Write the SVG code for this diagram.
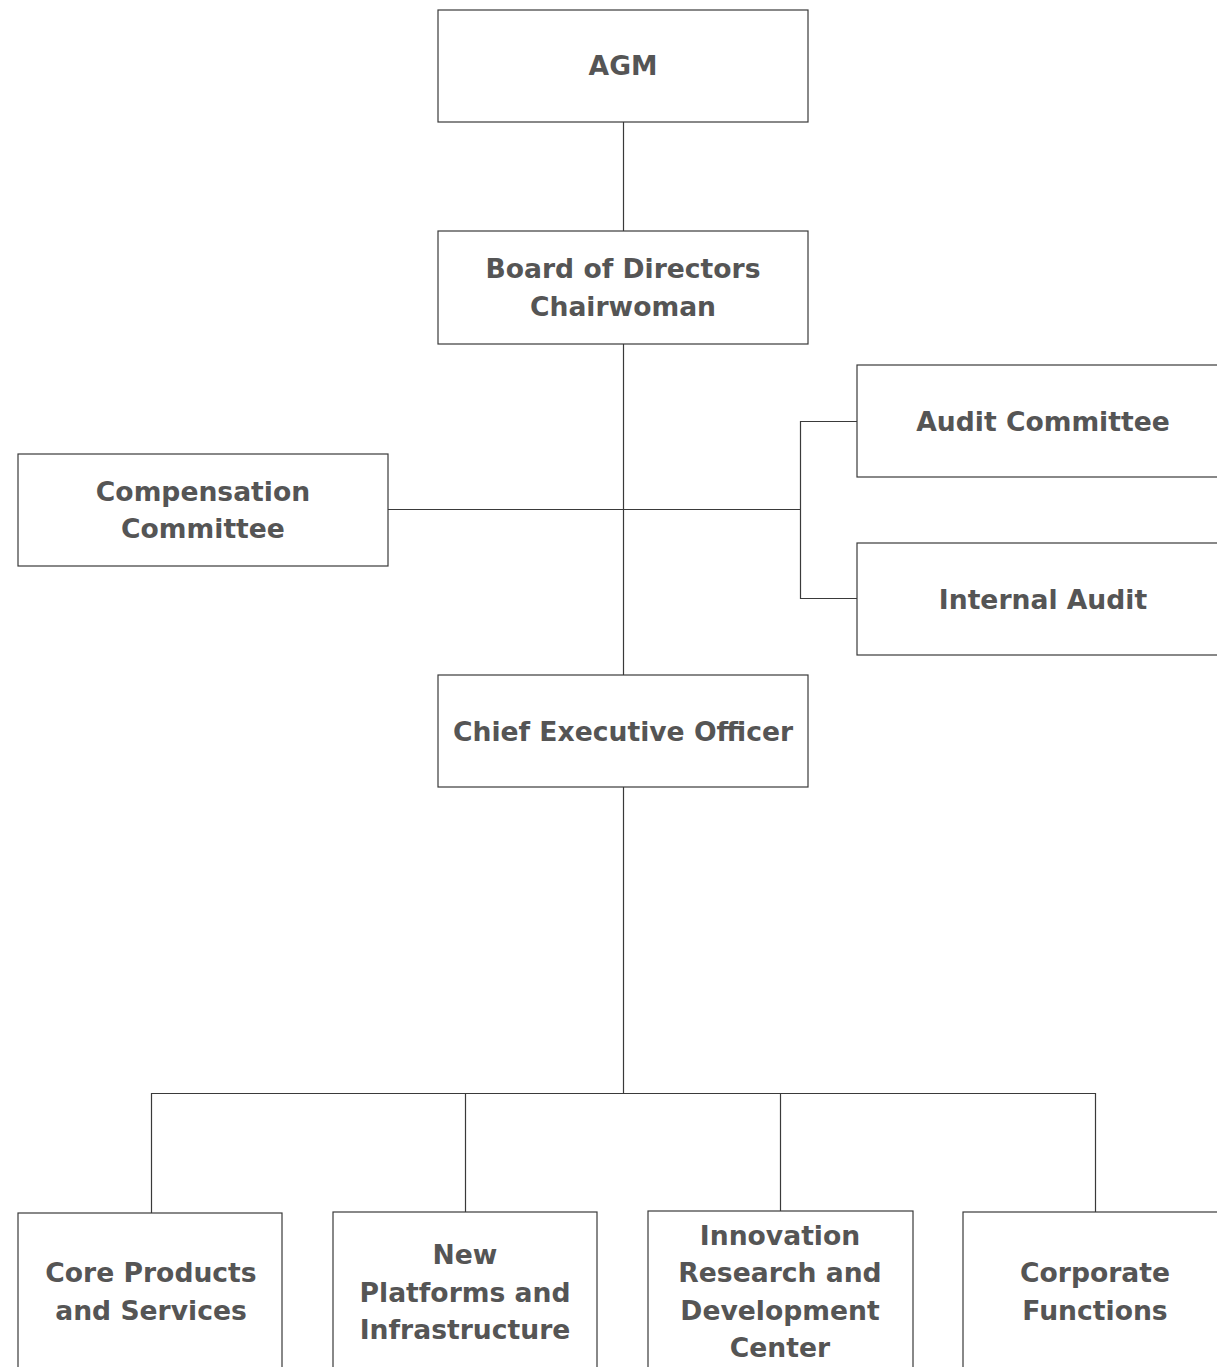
<svg xmlns="http://www.w3.org/2000/svg" width="1217" height="1367" viewBox="0 0 1217 1367">
<style>
.box{fill:#fff;stroke:#3a3a3a;stroke-width:1.2}
.ln{fill:none;stroke:#3a3a3a;stroke-width:1.2}
.t{font-family:"DejaVu Sans","Liberation Sans",sans-serif;font-weight:bold;font-size:26.6px;fill:#555;text-anchor:middle}
</style>
<rect width="1217" height="1367" fill="#fff"/>
<g id="connectors">
<path class="ln" d="M623.5 122V231"/>
<path class="ln" d="M623.5 344V675"/>
<path class="ln" d="M388 509.5H800"/>
<path class="ln" d="M857 421.5H800.5V598.5H857"/>
<path class="ln" d="M623.5 787V1093.5"/>
<path class="ln" d="M151.5 1213V1093.5H1095.5V1212"/>
<path class="ln" d="M465.5 1093.5V1212"/>
<path class="ln" d="M780.5 1093.5V1211"/>
</g>
<g id="agm"><rect class="box" x="438" y="10" width="370" height="112"/><text class="t" x="623" y="75">AGM</text></g>
<g id="board"><rect class="box" x="438" y="231" width="370" height="113"/><text class="t" x="623" y="278">Board of Directors</text><text class="t" x="623" y="316">Chairwoman</text></g>
<g id="compensation"><rect class="box" x="18" y="454" width="370" height="112"/><text class="t" x="203" y="501">Compensation</text><text class="t" x="203" y="538">Committee</text></g>
<g id="audit-committee"><rect class="box" x="857" y="365" width="370" height="112"/><text class="t" x="1043" y="431">Audit Committee</text></g>
<g id="internal-audit"><rect class="box" x="857" y="543" width="370" height="112"/><text class="t" x="1043" y="609">Internal Audit</text></g>
<g id="ceo"><rect class="box" x="438" y="675" width="370" height="112"/><text class="t" x="623" y="741">Chief Executive Officer</text></g>
<g id="core"><rect class="box" x="18" y="1213" width="264" height="170"/><text class="t" x="151" y="1282">Core Products</text><text class="t" x="151" y="1320">and Services</text></g>
<g id="new-platforms"><rect class="box" x="333" y="1212" width="264" height="170"/><text class="t" x="465" y="1264">New</text><text class="t" x="465" y="1302">Platforms and</text><text class="t" x="465" y="1339">Infrastructure</text></g>
<g id="innovation"><rect class="box" x="648" y="1211" width="265" height="170"/><text class="t" x="780" y="1245">Innovation</text><text class="t" x="780" y="1282">Research and</text><text class="t" x="780" y="1320">Development</text><text class="t" x="780" y="1357">Center</text></g>
<g id="corporate"><rect class="box" x="963" y="1212" width="264" height="170"/><text class="t" x="1095" y="1282">Corporate</text><text class="t" x="1095" y="1320">Functions</text></g>
</svg>
